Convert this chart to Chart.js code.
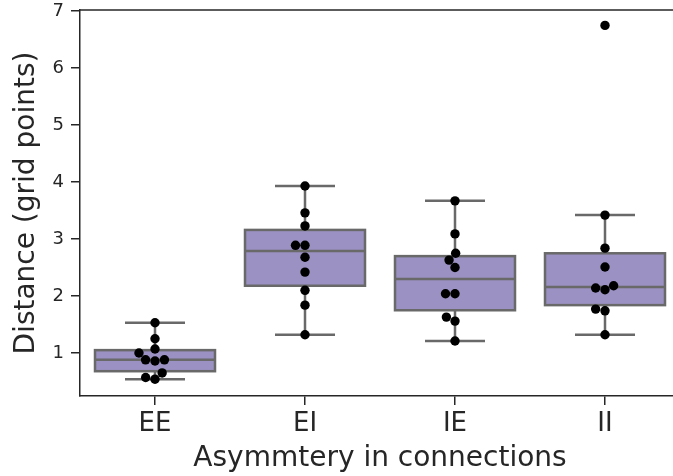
<!DOCTYPE html>
<html>
<head>
<meta charset="utf-8">
<script src="https://cdn.jsdelivr.net/npm/chart.js@4"></script>
<style>
  html, body { margin: 0; padding: 0; background: #fff; overflow: hidden; }
  #wrap { width: 673px; height: 476px; overflow: hidden; }
</style>
</head>
<body>
<div id="wrap"><canvas id="chart" width="700" height="476"></canvas></div>
<script>
// Data
const categories = ['EE', 'EI', 'IE', 'II'];
const eeValues = [1.53, 1.25, 1.07, 1.0, 0.88, 0.86, 0.88, 0.65, 0.57, 0.54];
const eiValues = [3.93, 3.46, 3.23, 2.89, 2.89, 2.68, 2.42, 2.10, 1.84, 1.32];
const ieValues = [3.67, 3.09, 2.75, 2.63, 2.50, 2.04, 2.04, 1.63, 1.56, 1.21];
const iiValues = [6.75, 3.42, 2.84, 2.51, 2.18, 2.14, 2.11, 1.77, 1.74, 1.32];
const groupValues = [eeValues, eiValues, ieValues, iiValues];

// box stats per category
const whiskerLow = [0.54, 1.32, 1.21, 1.32];
const q1 = [0.68, 2.18, 1.75, 1.84];
const median = [0.88, 2.79, 2.30, 2.16];
const q3 = [1.05, 3.16, 2.70, 2.75];
const whiskerHigh = [1.53, 3.93, 3.67, 3.42];

const yTicks = [1, 2, 3, 4, 5, 6, 7];
const yMin = 0.245, yMax = 7.02;

const textColor = '#262626';
const boxFill = 'rgb(155, 145, 194)';
const boxEdge = 'rgb(105, 105, 105)';

// plot area size used for the swarm layout (px per data unit)
const plotW = 600, plotH = 386;
const pxPerX = plotW / 4;
const pxPerY = plotH / (yMax - yMin);
const dotDiameter = 9.5;

// simple beeswarm: sort by value, put each dot at the smallest offset that doesn't overlap
function swarm(values, center) {
    const sorted = values.slice().sort((a, b) => a - b);
    const placed = [];
    sorted.forEach(v => {
        const py = v * pxPerY;
        const cands = [0];
        placed.forEach(p => {
            const dy = Math.abs(p.py - py);
            if (dy < dotDiameter) {
                const dx = Math.sqrt(dotDiameter * dotDiameter - dy * dy);
                cands.push(p.px - dx, p.px + dx);
            }
        });
        cands.sort((a, b) => Math.abs(a) - Math.abs(b) || a - b);
        const px = cands.find(c => placed.every(p =>
            Math.hypot(p.px - c, p.py - py) >= dotDiameter - 0.01));
        placed.push({ px: px, py: py });
    });
    return placed.map(p => ({ x: center + p.px / pxPerX, y: p.py / pxPerY }));
}

const points = [];
groupValues.forEach((vals, i) => points.push(...swarm(vals, i)));

const boxPlugin = {
    id: 'boxes',
    beforeDatasetsDraw(chart) {
        const { ctx, scales: { x, y } } = chart;
        ctx.save();
        ctx.lineWidth = 2.5;
        ctx.strokeStyle = boxEdge;
        categories.forEach((c, i) => {
            const l = x.getPixelForValue(i - 0.4), r = x.getPixelForValue(i + 0.4);
            const cl = x.getPixelForValue(i - 0.2), cr = x.getPixelForValue(i + 0.2);
            const cx = x.getPixelForValue(i);
            const top = y.getPixelForValue(q3[i]), bot = y.getPixelForValue(q1[i]);
            const lo = y.getPixelForValue(whiskerLow[i]), hi = y.getPixelForValue(whiskerHigh[i]);
            const med = y.getPixelForValue(median[i]);
            ctx.beginPath();
            ctx.moveTo(cx, top); ctx.lineTo(cx, hi);
            ctx.moveTo(cx, bot); ctx.lineTo(cx, lo);
            ctx.moveTo(cl, hi); ctx.lineTo(cr, hi);
            ctx.moveTo(cl, lo); ctx.lineTo(cr, lo);
            ctx.stroke();
            ctx.fillStyle = boxFill;
            ctx.fillRect(l, top, r - l, bot - top);
            ctx.strokeRect(l, top, r - l, bot - top);
            ctx.beginPath();
            ctx.moveTo(l, med); ctx.lineTo(r, med);
            ctx.stroke();
        });
        // top spine
        ctx.strokeStyle = textColor;
        ctx.lineWidth = 1.5;
        ctx.beginPath();
        ctx.moveTo(chart.chartArea.left, chart.chartArea.top);
        ctx.lineTo(chart.chartArea.right + 5, chart.chartArea.top);
        ctx.stroke();
        ctx.restore();
    }
};

new Chart(document.getElementById('chart'), {
    type: 'scatter',
    data: {
        datasets: [{
            data: points,
            backgroundColor: '#000',
            borderWidth: 0,
            pointRadius: 4.7
        }]
    },
    options: {
        responsive: false,
        animation: false,
        layout: { padding: { left: 0, top: 10, right: 20, bottom: 0 } },
        plugins: { legend: { display: false }, tooltip: { enabled: false } },
        scales: {
            x: {
                type: 'linear',
                min: -0.5,
                max: 3.5,
                afterBuildTicks: s => { s.ticks = categories.map((c, i) => ({ value: i })); },
                afterFit: s => { s.height = 80; s.paddingLeft = 0; s.paddingRight = 0; },
                ticks: {
                    callback: v => categories[v],
                    color: textColor,
                    font: { family: 'DejaVu Sans', size: 26 },
                    padding: 4,
                    maxRotation: 0
                },
                grid: { drawOnChartArea: false, tickLength: 9, color: textColor, lineWidth: 1.5 },
                border: { color: textColor, width: 1.5 },
                title: {
                    display: true,
                    text: 'Asymmtery in connections',
                    color: textColor,
                    font: { family: 'DejaVu Sans', size: 28 },
                    padding: { top: 0, bottom: 0 }
                }
            },
            y: {
                min: yMin,
                max: yMax,
                afterBuildTicks: s => { s.ticks = yTicks.map(v => ({ value: v })); },
                afterFit: s => { s.width = 80; s.paddingTop = 0; s.paddingBottom = 0; },
                ticks: {
                    color: textColor,
                    font: { family: 'DejaVu Sans', size: 18 },
                    padding: 7
                },
                grid: { drawOnChartArea: false, tickLength: 9, color: textColor, lineWidth: 1.5 },
                border: { color: textColor, width: 1.5 },
                title: {
                    display: true,
                    text: 'Distance (grid points)',
                    color: textColor,
                    font: { family: 'DejaVu Sans', size: 28 },
                    padding: { top: 10, bottom: 0 }
                }
            }
        }
    },
    plugins: [boxPlugin]
});
</script>
</body>
</html>
